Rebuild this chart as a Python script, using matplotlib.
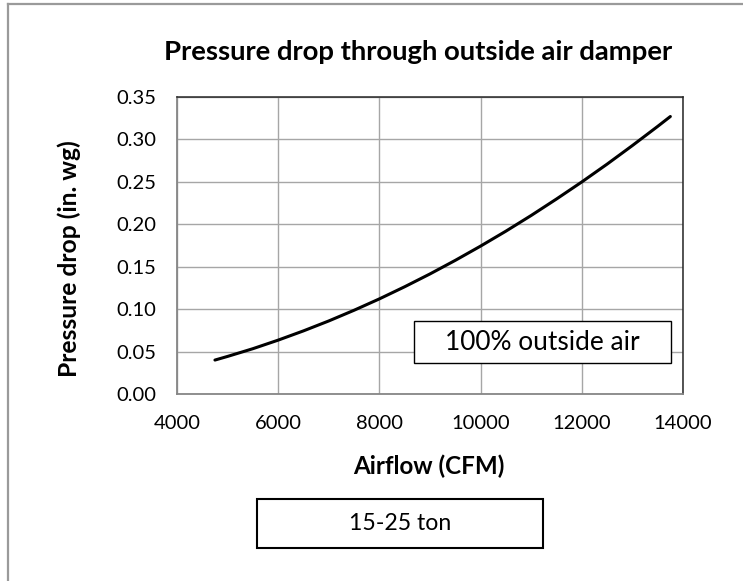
import matplotlib
matplotlib.use("Agg")
import matplotlib.pyplot as plt
from matplotlib.patches import Rectangle
from matplotlib.lines import Line2D

# Pressure drop curve for the outside air damper (15-25 ton units)
airflow_cfm = [4750, 5000, 5500, 6000, 6500, 7000, 7500, 8000, 8500, 9000,
               9500, 10000, 10500, 11000, 11500, 12000, 12500, 13000, 13500, 13750]
pressure_drop = [0.0400, 0.0443, 0.0534, 0.0635, 0.0744, 0.0861, 0.0987, 0.1121,
                 0.1264, 0.1415, 0.1575, 0.1743, 0.1919, 0.2104, 0.2298, 0.2499,
                 0.2709, 0.2928, 0.3154, 0.3270]

x_ticks = [4000, 6000, 8000, 10000, 12000, 14000]
y_ticks = [0.00, 0.05, 0.10, 0.15, 0.20, 0.25, 0.30, 0.35]

title = "Pressure drop through outside air damper"
x_label = "Airflow (CFM)"
y_label = "Pressure drop (in. wg)"
series_note = "100% outside air"
unit_size = "15-25 ton"

FONT = "Lato"
W, H = 743, 581
fig = plt.figure(figsize=(W / 100, H / 100), dpi=100)
fig.patch.set_facecolor("white")


def fx(px):
    return px / W


def fy(py):
    return 1 - py / H


ax = fig.add_axes([fx(177), fy(394), fx(683) - fx(177), fy(97) - fy(394)])
ax.plot(airflow_cfm, pressure_drop, color="black", lw=2.2, solid_capstyle="round")
ax.set_xlim(4000, 14000)
ax.set_ylim(0, 0.35)
ax.set_xticks(x_ticks)
ax.set_yticks(y_ticks)
ax.set_xticklabels([str(v) for v in x_ticks])
ax.set_yticklabels([f"{v:.2f}" for v in y_ticks])
ax.grid(True, color="#a6a6a6", lw=1.0)
ax.set_axisbelow(True)
ax.tick_params(length=0, pad=15)
for lab in ax.get_xticklabels() + ax.get_yticklabels():
    lab.set_fontfamily(FONT)
    lab.set_fontsize(14)
for side in ("left", "bottom"):
    ax.spines[side].set_color("#868686")
    ax.spines[side].set_linewidth(1.3)
for side in ("top", "right"):
    ax.spines[side].set_color("#262626")
    ax.spines[side].set_linewidth(1.1)

# chart-area border (top and left edges)
fig.add_artist(Line2D([fx(8), fx(8)], [fy(4), 0], transform=fig.transFigure,
                      color="#9a9a9a", lw=1.6))
fig.add_artist(Line2D([fx(8), 1], [fy(4), fy(4)], transform=fig.transFigure,
                      color="#9a9a9a", lw=1.6))

t_title = fig.text(fx(418), fy(60), title, ha="center", va="baseline",
                   fontfamily=FONT, fontweight="bold", fontsize=18)
t_x = fig.text(fx(429), fy(466), x_label, ha="center", va="center",
               fontfamily=FONT, fontweight="bold", fontsize=14)
t_y = fig.text(fx(69), fy(259), y_label, ha="center", va="center", rotation=90,
               fontfamily=FONT, fontweight="bold", fontsize=14)

fig.add_artist(Rectangle((fx(414), fy(363)), fx(671) - fx(414), fy(321) - fy(363),
                         transform=fig.transFigure, facecolor="white",
                         edgecolor="black", lw=1.0, zorder=5))
t_note = fig.text(fx(542), fy(342), series_note, ha="center", va="center",
                  fontfamily=FONT, fontsize=14, zorder=6)

fig.add_artist(Rectangle((fx(257), fy(548)), fx(543) - fx(257), fy(499) - fy(548),
                         transform=fig.transFigure, facecolor="white",
                         edgecolor="black", lw=1.5, zorder=5))
t_unit = fig.text(fx(400), fy(523), unit_size, ha="center", va="center",
                  fontfamily=FONT, fontsize=14, zorder=6)

# scale each text so its rendered extent fits the layout widths
fig.canvas.draw()
renderer = fig.canvas.get_renderer()


def fit(txt, target, vertical=False):
    bb = txt.get_window_extent(renderer)
    size = bb.height if vertical else bb.width
    txt.set_fontsize(txt.get_fontsize() * target / size)


fit(t_title, 510)
fit(t_x, 152)
fit(t_y, 238, vertical=True)
fit(t_note, 195)
fit(t_unit, 103)
ref = ax.get_xticklabels()[0]
bb = ref.get_window_extent(renderer)
tick_size = ref.get_fontsize() * 47 / bb.width
for lab in ax.get_xticklabels() + ax.get_yticklabels():
    lab.set_fontsize(tick_size)

fig.savefig("out.png", dpi=100, facecolor="white")
